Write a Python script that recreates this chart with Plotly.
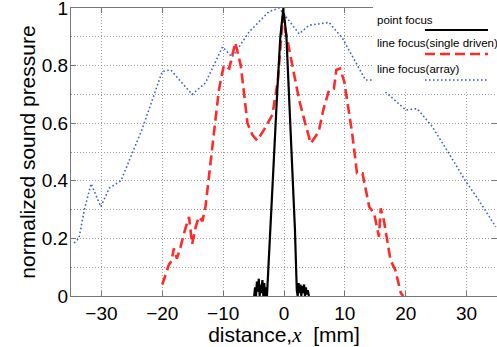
import plotly.graph_objects as go

# point focus
pf_x = [-4.9, -4.75, -4.6, -4.45, -4.3, -4.15, -4.0, -3.85, -3.7, -3.55, -3.4, -3.25, -3.1, -2.95, -2.8,
        -2.2, -1.7, -1.1, -0.6, -0.1, 0.4, 0.9, 1.4, 1.8, 2.1,
        2.25, 2.4, 2.55, 2.7, 2.85, 3.0, 3.15, 3.3, 3.45, 3.6, 3.75, 3.9, 4.1]
pf_y = [0.0, 0.03, 0.0, 0.05, 0.015, 0.06, 0.0, 0.04, 0.01, 0.055, 0.0, 0.045, 0.0, 0.03, 0.0,
        0.23, 0.46, 0.715, 0.9, 1.0, 0.9, 0.66, 0.42, 0.23, 0.02,
        0.0, 0.045, 0.01, 0.04, 0.0, 0.035, 0.01, 0.04, 0.0, 0.03, 0.005, 0.02, 0.0]

# line focus (single driven)
sd_x = [-20, -19.3, -18.9, -18.5, -18.1, -17.6, -17.0, -16.4, -15.6, -15.1, -14.5, -14.0, -13.4, -12.9,
        -12.3, -11.8, -11.2, -10.7, -9.9, -9.0, -8.0, -7.1, -6.0, -5.2, -4.4, -3.2, -1.9, -1.0, -0.2,
        0.8, 1.7, 2.5, 3.6, 4.4, 5.7, 6.5, 7.4, 8.2, 8.6, 9.2, 9.9, 10.5, 11.2, 12.0, 12.9, 14.0, 14.8,
        15.6, 15.9, 16.4, 17.5, 18.3, 19.2, 19.6]
sd_y = [0.04, 0.08, 0.11, 0.12, 0.165, 0.13, 0.17, 0.22, 0.275, 0.18, 0.24, 0.275, 0.26, 0.31,
        0.42, 0.53, 0.63, 0.715, 0.80, 0.79, 0.88, 0.80, 0.60, 0.56, 0.54, 0.58, 0.63, 0.75, 0.97,
        0.86, 0.77, 0.68, 0.59, 0.53, 0.57, 0.65, 0.715, 0.72, 0.785, 0.79, 0.745, 0.66, 0.565, 0.426, 0.426,
        0.31, 0.287, 0.206, 0.304, 0.264, 0.125, 0.09, 0.01, 0.0]

# line focus (array)
ar_x = [-34.5, -33.7, -32.8, -31.7, -30.1, -28.7, -26.8, -23.3, -20.5, -20.0, -18.6, -15.1, -12.9, -10.1,
        -9.0, -8.5, -5.7, -2.5, -0.8, 2.5, 4.1, 7.4, 9.6, 11.8, 13.4, 14.5, 20.0, 21.9, 24.3, 27.1, 29.8,
        32.0, 34.8]
ar_y = [0.184, 0.20, 0.30, 0.39, 0.31, 0.375, 0.40, 0.58, 0.75, 0.78, 0.785, 0.70, 0.74, 0.865,
        0.84, 0.83, 0.918, 0.987, 1.0, 0.91, 0.94, 0.95, 0.895, 0.81, 0.75, 0.75, 0.646, 0.65, 0.59, 0.495, 0.40,
        0.333, 0.24]

x_ticks = [-30, -20, -10, 0, 10, 20, 30]
x_tick_text = ["\u221230", "\u221220", "\u221210", "0", "10", "20", "30"]
y_ticks = [0, 0.2, 0.4, 0.6, 0.8, 1]
y_tick_text = ["0", "0.2", "0.4", "0.6", "0.8", "1"]

legend_names = ["point focus", "line focus(single driven)", "line focus(array)"]

BLUE = "#3f5fcf"
RED = "#ff2a2a"
BLUE_DASH = "1.6px,2.4px"
RED_DASH = "10px,5px"

fig = go.Figure()
fig.add_trace(go.Scatter(x=ar_x, y=ar_y, mode="lines", name=legend_names[2],
                         line=dict(color=BLUE, width=1.6, dash=BLUE_DASH)))
fig.add_trace(go.Scatter(x=sd_x, y=sd_y, mode="lines", name=legend_names[1],
                         line=dict(color=RED, width=2.6, dash=RED_DASH)))
fig.add_trace(go.Scatter(x=pf_x, y=pf_y, mode="lines", name=legend_names[0],
                         line=dict(color="black", width=2.2)))

axis_col = "#777777"
grid_col = "#9a9a9a"
GRID_DASH = "1px,2px"
font = "Liberation Sans, Arial, sans-serif"

fig.update_layout(
    width=497, height=347,
    margin=dict(l=71, r=0, t=8, b=51, autoexpand=False),
    paper_bgcolor="white", plot_bgcolor="white",
    showlegend=False,
    font=dict(family=font, color="black"),
    xaxis=dict(range=[-35, 35], tickvals=x_ticks, ticktext=x_tick_text, automargin=False,
               showgrid=True, gridcolor=grid_col, griddash=GRID_DASH, gridwidth=1,
               showline=True, linecolor=axis_col, linewidth=1, mirror="ticks",
               ticks="inside", ticklen=5, tickcolor=axis_col, zeroline=False,
               tickfont=dict(size=19), ticklabeloverflow="allow", ticklabelstandoff=0,
               title=dict(text="distance,<i><span style=\"font-family:'Liberation Serif'\">x</span></i>  [mm]",
                          font=dict(size=21), standoff=0)),
    yaxis=dict(range=[0, 1.00001], tickvals=y_ticks, ticktext=y_tick_text, automargin=False,
               showgrid=True, gridcolor=grid_col, griddash=GRID_DASH, gridwidth=1,
               minor=dict(dtick=0.1, showgrid=True, gridcolor=grid_col, griddash=GRID_DASH, gridwidth=1),
               showline=True, linecolor=axis_col, linewidth=1, mirror="ticks",
               ticks="inside", ticklen=5, tickcolor=axis_col, zeroline=False,
               tickfont=dict(size=19), ticklabeloverflow="allow", ticklabelstandoff=-2,
               title=dict(text="normalized sound pressure", font=dict(size=21), standoff=0)),
)

# legend box (MATLAB style: text, then line sample beneath on the right)
x0 = (373 - 71) / 426
fig.add_shape(type="rect", xref="paper", yref="paper", x0=x0, x1=1.01, y0=(296 - 92) / 288, y1=1.02,
              fillcolor="white", line=dict(width=0), layer="above")
text_y = [(296 - 20) / 288, (296 - 43) / 288, (296 - 69) / 288]
line_y = [(296 - 30) / 288, (296 - 54) / 288, (296 - 80) / 288]
styles = [dict(color="black", width=2.2), dict(color=RED, width=2.6, dash=RED_DASH),
          dict(color=BLUE, width=1.6, dash=BLUE_DASH)]
for name, ty, ly, st in zip(legend_names, text_y, line_y, styles):
    fig.add_annotation(xref="paper", yref="paper", x=(375 - 71) / 426, y=ty, text=name,
                       showarrow=False, xanchor="left", yanchor="middle",
                       font=dict(size=11.5, family=font, color="black"))
    fig.add_shape(type="line", xref="paper", yref="paper", x0=(425 - 71) / 426, x1=(488 - 71) / 426,
                  y0=ly, y1=ly, line=st, layer="above")

fig.write_html("out.html", config={"displayModeBar": False},
               post_script="document.body.style.margin='0';document.body.style.padding='0';")
